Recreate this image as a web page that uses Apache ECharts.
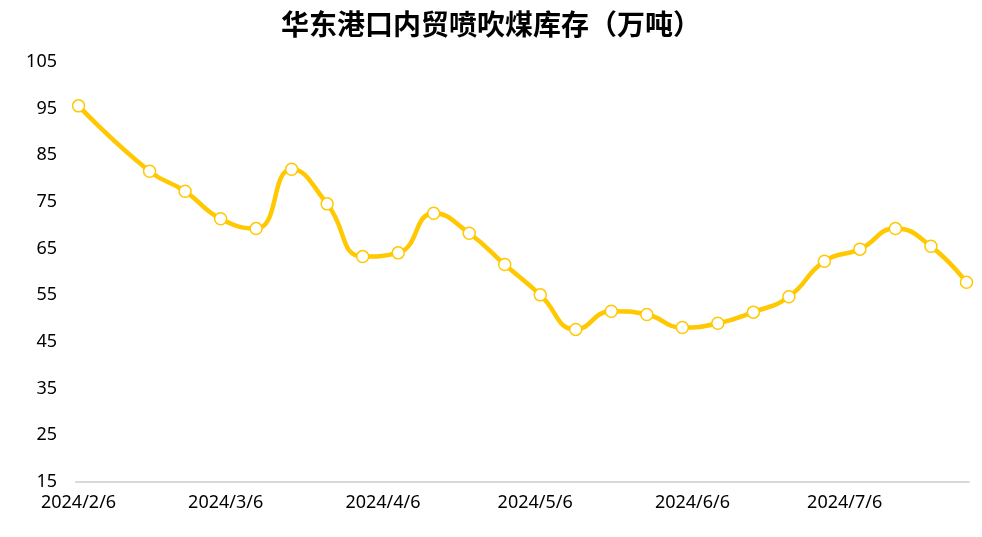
<!DOCTYPE html>
<html>
<head>
<meta charset="utf-8">
<script src="https://cdn.jsdelivr.net/npm/echarts@6/dist/echarts.min.js"></script>
<style>html,body{margin:0;padding:0;background:#fff}#c{width:982px;height:537px}</style>
</head>
<body>
<div id="c"></div>
<script>
const title = '华东港口内贸喷吹煤库存（万吨）';
const dates = ['2024-02-06','2024-02-20','2024-02-27','2024-03-05','2024-03-12','2024-03-19','2024-03-26','2024-04-02','2024-04-09','2024-04-16','2024-04-23','2024-04-30','2024-05-07','2024-05-14','2024-05-21','2024-05-28','2024-06-04','2024-06-11','2024-06-18','2024-06-25','2024-07-02','2024-07-09','2024-07-16','2024-07-23','2024-07-30'];
const values = [95.6,81.6,77.3,71.4,69.3,82.0,74.6,63.3,64.1,72.6,68.3,61.6,55.1,47.7,51.6,50.9,48.1,49.0,51.4,54.7,62.3,64.9,69.3,65.5,57.8];
const xTickLabels = ['2024-02-06','2024-03-06','2024-04-06','2024-05-06','2024-06-06','2024-07-06'];
const yMin = 15, yMax = 105, yStep = 10;

function ts(s){const p=s.split('-').map(Number);return Date.UTC(p[0],p[1]-1,p[2]);}
const DAY = 86400000;
const chart = echarts.init(document.getElementById('c'));
chart.setOption({
  animation:false,
  backgroundColor:'#fff',
  title:{text:title,left:'center',top:5,textStyle:{fontFamily:'Noto Sans CJK SC',fontWeight:'bold',fontSize:28,color:'#000'}},
  grid:{left:76,right:13,top:62,bottom:55,containLabel:false},
  xAxis:{
    type:'value',
    min:ts(dates[0])-0.5*DAY,
    max:ts(dates[dates.length-1])+0.5*DAY,
    axisLine:{show:true,lineStyle:{color:'#d9d9d9',width:2}},
    axisTick:{show:false},
    splitLine:{show:false},
    axisLabel:{
      customValues:xTickLabels.map(ts),
      margin:12,
      fontFamily:'Noto Sans',fontSize:18,color:'#000',
      formatter:function(v){const d=new Date(v);return d.getUTCFullYear()+'/'+(d.getUTCMonth()+1)+'/'+d.getUTCDate();}
    }
  },
  yAxis:{
    type:'value',min:yMin,max:yMax,interval:yStep,
    axisLine:{show:false},axisTick:{show:false},splitLine:{show:false},
    axisLabel:{margin:19,fontFamily:'Noto Sans',fontSize:18,color:'#000'}
  },
  series:[{
    type:'line',
    data:dates.map((d,i)=>[ts(d),values[i]]),
    smooth:0.5,
    symbol:'circle',symbolSize:12,
    itemStyle:{color:'#fff',borderColor:'#FFC800',borderWidth:1.5},
    lineStyle:{color:'#FFC800',width:4.5}
  }]
});
</script>
</body>
</html>
